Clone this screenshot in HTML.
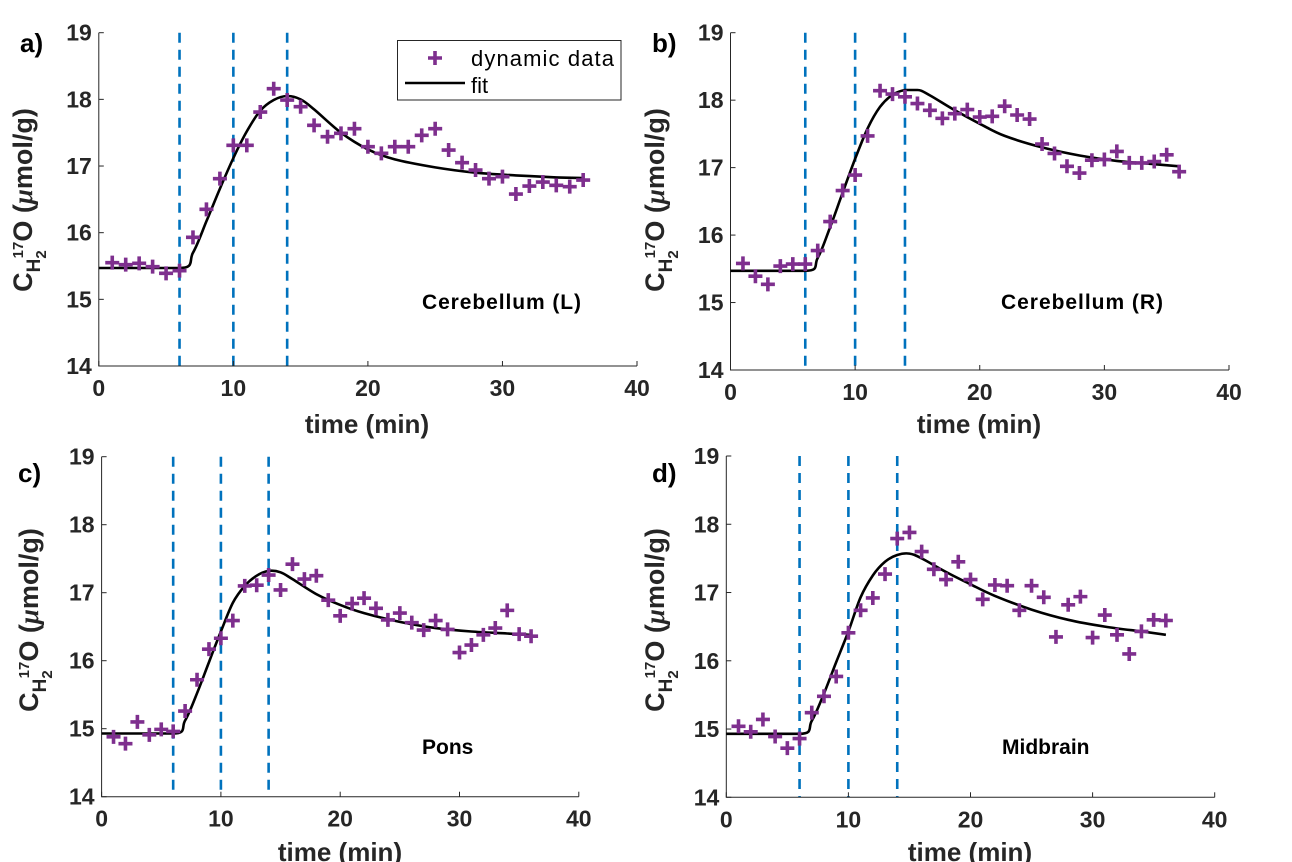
<!DOCTYPE html>
<html><head><meta charset="utf-8"><style>
html,body{margin:0;padding:0;background:#fff;}
svg{display:block;font-family:"Liberation Sans",sans-serif;}
</style></head><body>
<svg id="fig" width="1292" height="862" viewBox="0 0 1292 862"></svg>
<script>
const times = [1,2,3,4,5,6,7,8,9,10,11,12,13,14,15,16,17,18,19,20,21,22,23,24,25,26,27,28,29,30,31,32,33,34,35,36];
const dataA = [15.55,15.52,15.54,15.49,15.39,15.43,15.93,16.35,16.81,17.31,17.31,17.81,18.16,17.99,17.89,17.61,17.44,17.49,17.56,17.29,17.19,17.29,17.29,17.46,17.56,17.24,17.05,16.94,16.81,16.84,16.58,16.70,16.76,16.71,16.69,16.79];
const dataB = [15.58,15.39,15.27,15.54,15.57,15.57,15.77,16.2,16.66,16.89,17.47,18.14,18.09,18.05,17.95,17.85,17.73,17.80,17.86,17.75,17.76,17.91,17.78,17.72,17.35,17.21,17.02,16.92,17.11,17.12,17.24,17.07,17.07,17.09,17.19,16.94];
const dataC = [14.88,14.78,15.10,14.91,14.99,14.96,15.26,15.72,16.17,16.33,16.59,17.10,17.11,17.26,17.04,17.42,17.20,17.25,16.89,16.66,16.84,16.92,16.77,16.60,16.70,16.56,16.45,16.59,16.46,16.12,16.23,16.38,16.48,16.74,16.39,16.36];
const dataD = [15.04,14.96,15.14,14.89,14.72,14.86,15.24,15.48,15.77,16.41,16.74,16.92,17.27,17.79,17.88,17.60,17.34,17.19,17.45,17.19,16.90,17.11,17.10,16.74,17.10,16.93,16.35,16.82,16.94,16.34,16.67,16.38,16.10,16.43,16.60,16.59];
const fitTimes = [0,6,7,8,9,10,11,12,13,14,15,16,18,20,22,25,28,31,34,36];
const fitA = [15.47,15.47,15.7,16.17,16.66,17.12,17.52,17.83,17.99,18.05,18.0,17.85,17.5,17.25,17.1,16.98,16.9,16.86,16.83,16.82];
const fitB = [15.47,15.47,15.66,16.12,16.63,17.13,17.58,17.9,18.08,18.15,18.15,18.07,17.85,17.65,17.47,17.3,17.18,17.1,17.05,17.02];
const fitC = [14.93,14.93,15.12,15.52,15.98,16.43,16.85,17.1,17.25,17.32,17.3,17.2,16.98,16.82,16.7,16.57,16.48,16.43,16.4,16.38];
const fitD = [14.93,14.93,15.12,15.52,15.98,16.43,16.93,17.25,17.45,17.55,17.57,17.5,17.3,17.12,16.95,16.75,16.6,16.5,16.43,16.38];
const dashTimes = [6,10,14];
const xTicks = [0,10,20,30,40];
const yTicks = [14,15,16,17,18,19];

const NS = "http://www.w3.org/2000/svg";
const svg = document.getElementById('fig');
function mk(tag, attrs, parent){const e=document.createElementNS(NS,tag);for(const k in attrs)e.setAttribute(k,attrs[k]);(parent||svg).appendChild(e);return e;}
function smooth(pts){
 let d='M'+pts[0][0].toFixed(1)+','+pts[0][1].toFixed(1);
 for(let i=0;i<pts.length-1;i++){
  const p0=pts[Math.max(0,i-1)],p1=pts[i],p2=pts[i+1],p3=pts[Math.min(pts.length-1,i+2)];
  let c1=[p1[0]+(p2[0]-p0[0])/6,p1[1]+(p2[1]-p0[1])/6];
  let c2=[p2[0]-(p3[0]-p1[0])/6,p2[1]-(p3[1]-p1[1])/6];
  if(p0[1]===p1[1]) c1[1]=p1[1];
  if(p1[1]===p2[1]){c1[1]=p1[1];c2[1]=p2[1];}
  d+=`C${c1[0].toFixed(1)},${c1[1].toFixed(1)} ${c2[0].toFixed(1)},${c2[1].toFixed(1)} ${p2[0].toFixed(1)},${p2[1].toFixed(1)}`;
 }
 return d;
}

const panels = [
 {id:'a',x0:98.8,x1:637,y0:366,y1:32.7,data:dataA,fit:fitA,region:'Cerebellum (L)',rx:422,ry:309,lx:20,ly:52,tx:367,ty:433,yt:32,ytc:200,legend:true},
 {id:'b',x0:730.5,x1:1229,y0:370,y1:32.7,data:dataB,fit:fitB,region:'Cerebellum (R)',rx:1001,ry:309,lx:652,ly:52,tx:979,ty:433,yt:664,ytc:200},
 {id:'c',x0:101.6,x1:578.8,y0:796.7,y1:456.7,data:dataC,fit:fitC,region:'Pons',rx:422,ry:754,lx:18,ly:482,tx:340,ty:861,yt:38,ytc:620},
 {id:'d',x0:726.3,x1:1214.7,y0:797.3,y1:456,data:dataD,fit:fitD,region:'Midbrain',rx:1002,ry:754,lx:652,ly:482,tx:970,ty:861,yt:664,ytc:620}
];

panels.forEach(p=>{
 const g = mk('g',{});
 
 
 const X = t => p.x0 + (t/40)*(p.x1-p.x0);
 const Y = v => p.y0 - ((v-14)/5)*(p.y0-p.y1);
 dashTimes.forEach(t=>{
  const l = mk('line',{x1:X(t),x2:X(t),y1:p.y1,y2:p.y0,stroke:'#0072BD','stroke-width':2.6,'stroke-dasharray':'10,7'},g);
  
  
 });
 const ax = mk('path',{d:`M${p.x0},${p.y1}V${p.y0}H${p.x1}`,fill:'none',stroke:'#262626','stroke-width':1},g);
 
 
 xTicks.forEach(t=>{
  mk('line',{x1:X(t),x2:X(t),y1:p.y0,y2:p.y0-5,stroke:'#262626'},g);
  const tx = mk('text',{x:X(t),y:p.y0+30,'text-anchor':'middle','font-size':23,'font-weight':'bold',fill:'#262626'},g);
  tx.textContent=t;
  
  
 });
 yTicks.forEach(v=>{
  mk('line',{x1:p.x0,x2:p.x0+5,y1:Y(v),y2:Y(v),stroke:'#262626'},g);
  const tx = mk('text',{x:p.x0-7,y:Y(v)+8,'text-anchor':'end','font-size':23,'font-weight':'bold',fill:'#262626'},g);
  tx.textContent=v;
  
  
 });
 const pts = p.fit.map((v,i)=>[X(fitTimes[i]),Y(v)]);
 const fl = mk('path',{d:smooth(pts),fill:'none',stroke:'#000','stroke-width':2.6,'stroke-linejoin':'round'},g);
 
 
 p.data.forEach((v,i)=>{
  const cx=X(times[i]), cy=Y(v);
  const m = mk('path',{d:`M${cx-7},${cy}H${cx+7}M${cx},${cy-7}V${cy+7}`,stroke:'#7E2F8E','stroke-width':3.6},g);
  
  
 });
 const pl = mk('text',{x:p.lx,y:p.ly,'font-size':26,'font-weight':'bold'},g);
 pl.textContent=p.id+')';
 
 
 const rl = mk('text',{x:p.rx,y:p.ry,'font-size':21,'font-weight':'bold'},g);
 if(p.region.length>9) rl.setAttribute('textLength',p.id==='a'?159:162);
 rl.textContent=p.region;
 
 
 const xt = mk('text',{x:p.tx,y:p.ty,'text-anchor':'middle','font-size':26,'font-weight':'bold',fill:'#262626'},g);
 xt.textContent='time (min)';
 
 
 const yt = mk('text',{transform:`translate(${p.yt},${p.ytc}) rotate(-90)`,'text-anchor':'middle','font-size':27,'font-weight':'bold',fill:'#262626'},g);
 
 
 yt.innerHTML='C<tspan font-size="19" dy="8">H</tspan><tspan font-size="15" dy="6">2</tspan><tspan font-size="15" dy="-23" dx="-8">17</tspan><tspan dy="9">O (</tspan><tspan font-family="Liberation Serif" font-style="italic">μ</tspan>mol/g)';
 if(p.legend){
  const lg = mk('g',{},g);
  
  
  mk('rect',{x:397.5,y:40.5,width:223.5,height:59.5,fill:'#fff',stroke:'#262626','stroke-width':1},lg);
  mk('path',{d:'M428,58H442M435,51V65',stroke:'#7E2F8E','stroke-width':3.6},lg);
  mk('line',{x1:405,x2:465,y1:83,y2:83,stroke:'#000','stroke-width':2.6},lg);
  const t1=mk('text',{x:471,y:66,'font-size':22,textLength:143},lg); t1.textContent='dynamic data';
  
  
  const t2=mk('text',{x:471,y:93,'font-size':22},lg); t2.textContent='fit';
  
  
 }
});
</script>
</body></html>
